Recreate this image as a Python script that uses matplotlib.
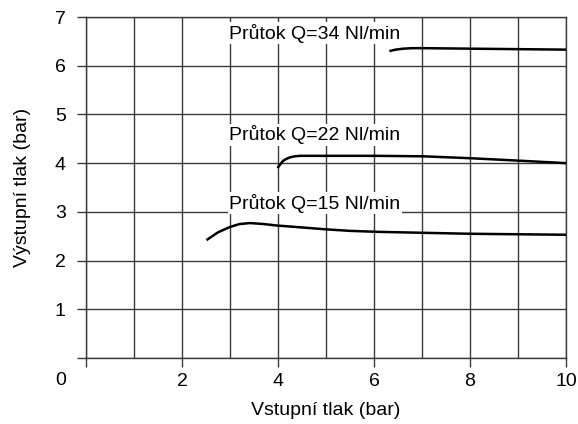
import matplotlib
matplotlib.use("Agg")
import matplotlib.pyplot as plt

plt.rcParams['font.family'] = ['Liberation Sans', 'DejaVu Sans']

# Inlet pressure (bar) vs. outlet pressure (bar) for three flow rates
x_q15 = [2.51, 2.75, 3.0, 3.2, 3.42, 3.7, 3.97, 4.5, 5.01, 5.5, 6.06, 7.03, 8.0, 9.0, 10.0]
y_q15 = [2.42, 2.58, 2.69, 2.75, 2.77, 2.75, 2.72, 2.68, 2.64, 2.61, 2.59, 2.57, 2.55, 2.54, 2.53]

x_q22 = [3.99, 4.05, 4.11, 4.18, 4.25, 4.35, 4.46, 5.0, 6.06, 7.03, 8.03, 9.04, 10.0]
y_q22 = [3.90, 3.98, 4.05, 4.09, 4.12, 4.14, 4.15, 4.15, 4.15, 4.14, 4.10, 4.05, 4.00]

x_q34 = [6.32, 6.45, 6.61, 6.8, 7.03, 8.0, 9.0, 10.0]
y_q34 = [6.30, 6.33, 6.35, 6.36, 6.36, 6.35, 6.34, 6.33]

labels = ["Průtok Q=15 Nl/min", "Průtok Q=22 Nl/min", "Průtok Q=34 Nl/min"]
label_pos = [(2.98, 3.18), (2.98, 4.58), (2.98, 6.67)]

x_ticks = [0, 2, 4, 6, 8, 10]
y_ticks = [0, 1, 2, 3, 4, 5, 6, 7]

fs = 14

fig = plt.figure(figsize=(5.78, 4.24), dpi=100)
ax = fig.add_axes([86 / 578, 1 - 358 / 424, 480 / 578, 341 / 424])

grid_col = "#3a3a3a"
ax.set_xlim(0, 10)
ax.set_ylim(0, 7)
ax.set_xticks(x_ticks)
ax.set_xticks(range(0, 11), minor=True)
ax.set_yticks(y_ticks)
ax.set_xticklabels([""] + [str(v) for v in x_ticks[1:]])
ax.set_yticklabels([""] + [str(v) for v in y_ticks[1:]])
ax.tick_params(axis='both', which='major', direction='out', length=6.5, width=1,
               color=grid_col, labelsize=fs)
ax.tick_params(axis='y', which='major', pad=8)
ax.tick_params(axis='x', which='major', pad=4)
ax.tick_params(axis='x', which='minor', length=0)
ax.grid(True, which='both', axis='x', color=grid_col, lw=1)
ax.grid(True, which='major', axis='y', color=grid_col, lw=1)
ax.set_axisbelow(True)
for s in ax.spines.values():
    s.set_color(grid_col)
    s.set_linewidth(1)

for xs, ys in [(x_q15, y_q15), (x_q22, y_q22), (x_q34, y_q34)]:
    ax.plot(xs, ys, color="black", lw=1.8, solid_capstyle='butt', zorder=3)

for txt, (tx, ty) in zip(labels, label_pos):
    ax.text(tx, ty, txt, fontsize=fs, ha='left', va='center', zorder=4,
            bbox=dict(facecolor='white', edgecolor='none', pad=1.0))

# Shared origin label
ax.text(-0.53, -0.47, "0", fontsize=fs, ha='center', va='center',
        transform=ax.transData, clip_on=False)

ax.set_xlabel("Vstupní tlak (bar)", fontsize=fs, labelpad=9)
ax.set_ylabel("Výstupní tlak (bar)", fontsize=fs, labelpad=17)

fig.savefig("out.png", dpi=100)
